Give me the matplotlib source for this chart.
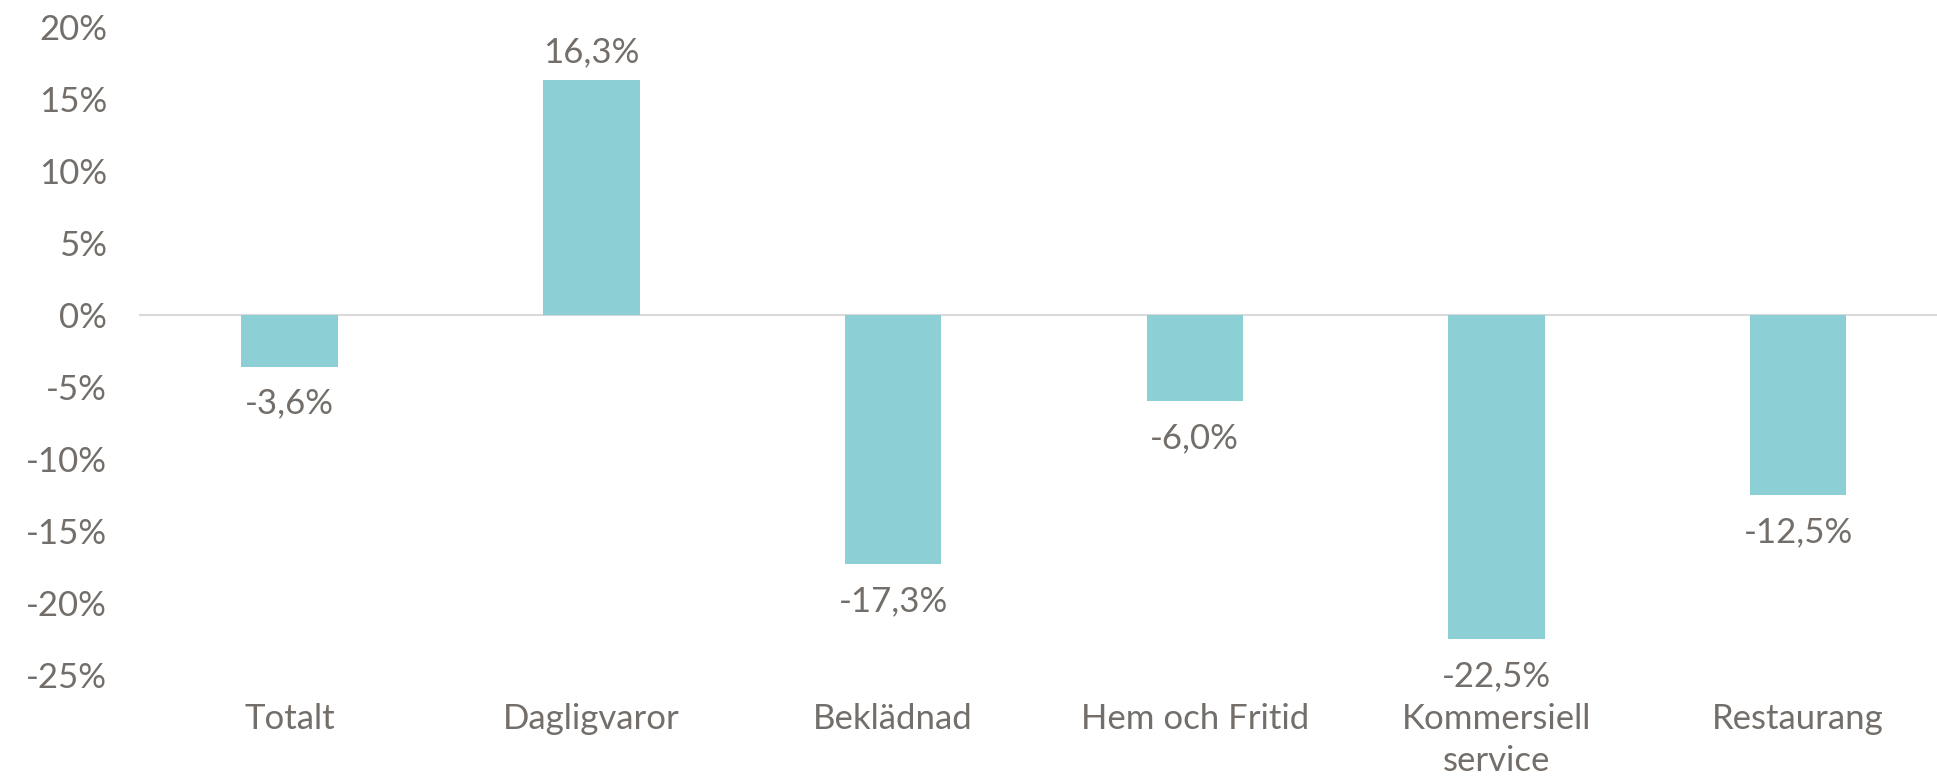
import matplotlib
matplotlib.use("Agg")
import matplotlib.pyplot as plt
from matplotlib.ticker import FixedLocator

categories = ["Totalt", "Dagligvaror", "Beklädnad", "Hem och Fritid", "Kommersiell\nservice", "Restaurang"]
values = [-3.6, 16.3, -17.3, -6.0, -22.5, -12.5]
yticks = [20, 15, 10, 5, 0, -5, -10, -15, -20, -25]

text_color = "#736e69"
bar_color = "#8ccfd4"
FS = 25

plt.rcParams['font.family'] = ['Lato', 'DejaVu Sans']

fig = plt.figure(figsize=(19.37, 7.81), dpi=100)
ax = fig.add_axes([0.0717, 0.1357, 0.9345, 0.8297])

x = list(range(len(categories)))
ax.bar(x, values, width=0.32, color=bar_color, zorder=2)
ax.axhline(0, color="#d9d9d9", lw=1.5, zorder=1)

ax.set_xlim(-0.5, len(categories) - 0.5)
ax.set_ylim(-25, 20)
ax.yaxis.set_major_locator(FixedLocator(yticks))
ax.set_yticklabels([f"{t}%" for t in yticks])
ax.set_xticks(x)
ax.set_xticklabels(categories, linespacing=1.4)

for s in ax.spines.values():
    s.set_visible(False)
ax.tick_params(axis='both', length=0, colors=text_color, labelsize=FS)
ax.tick_params(axis='x', pad=20)
ax.tick_params(axis='y', pad=23)

for xi, v in zip(x, values):
    txt = f"{v:.1f}%".replace('.', ',')
    if v >= 0:
        ax.annotate(txt, (xi, v), xytext=(0, 9), textcoords='offset points',
                    ha='center', va='bottom', fontsize=FS, color=text_color)
    else:
        ax.annotate(txt, (xi, v), xytext=(0, -15), textcoords='offset points',
                    ha='center', va='top', fontsize=FS, color=text_color)

fig.savefig("out.png", dpi=100)
